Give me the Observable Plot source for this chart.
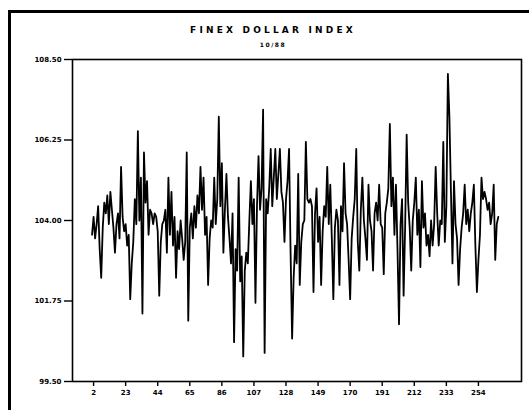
<!DOCTYPE html>
<html>
<head>
<meta charset="utf-8">
<script src="https://cdn.jsdelivr.net/npm/d3@7"></script>
<script src="https://cdn.jsdelivr.net/npm/@observablehq/plot@0.6"></script>
<style>
  html, body { margin: 0; padding: 0; background: #fff; }
  #wrap { position: relative; width: 529px; height: 410px; overflow: hidden; font-family: "DejaVu Sans", sans-serif; }
  #border { position: absolute; left: 8px; top: 10px; width: 540px; height: 420px; border-left: 3px solid #000; border-top: 3px solid #000; }
  #title { position: absolute; top: 25px; left: 0; width: 546px; text-align: center; font-weight: bold; font-size: 9px; letter-spacing: 3.2px; }
  #subtitle { position: absolute; top: 41px; left: 0; width: 546px; text-align: center; font-weight: bold; font-size: 6px; letter-spacing: 1.5px; }
  #chart { position: absolute; left: 0; top: 0; }
</style>
</head>
<body>
<div id="wrap">
  <div id="border"></div>
  <div id="title">FINEX DOLLAR INDEX</div>
  <div id="subtitle">10/88</div>
  <div id="chart"></div>
</div>
<script>
const title = "FINEX DOLLAR INDEX";
const subtitle = "10/88";
const xTicks = [2, 23, 44, 65, 86, 107, 128, 149, 170, 191, 212, 233, 254];
const yTicks = [99.5, 101.75, 104.0, 106.25, 108.5];
const yTickLabels = ["99.50", "101.75", "104.00", "106.25", "108.50"];
const indexValues = [
  103.6, 104.1, 103.5, 103.9, 104.4, 103.2, 102.4, 103.8, 104.5, 104.2,
  104.7, 103.9, 104.8, 104.3, 103.8, 103.1, 103.9, 104.2, 103.5, 105.5,
  104.1, 103.7, 103.9, 103.3, 103.6, 101.8, 102.8, 103.4, 104.6, 103.9,
  106.5, 104.0, 105.2, 101.4, 105.9, 104.5, 105.1, 103.6, 104.3, 104.2,
  103.9, 104.2, 104.1, 103.7, 101.9, 103.4, 103.9, 104.0, 104.3, 103.1,
  105.2, 103.6, 104.8, 103.3, 104.1, 102.4, 103.7, 103.2, 104.0, 103.5,
  102.9, 103.4, 105.9, 101.2, 103.8, 104.2, 103.5, 104.4, 103.8, 104.7,
  104.2, 105.5, 104.3, 105.2, 103.6, 104.1, 102.2, 103.5, 104.0, 103.8,
  105.2, 103.9, 104.6, 106.9, 104.4, 105.6, 103.1, 104.3, 105.3, 104.1,
  103.5, 102.8, 104.2, 100.6, 103.2, 102.6, 105.2, 102.3, 103.0, 100.2,
  102.6, 103.1, 102.8, 104.0, 105.1, 103.9, 104.6, 101.7, 104.4, 105.8,
  104.3, 104.9, 107.1, 100.3, 104.6, 104.2, 104.9, 106.0, 104.4, 105.2,
  106.0, 104.6, 105.3, 106.0, 104.8, 104.5, 103.4, 104.6, 105.1, 106.0,
  103.1, 100.7, 102.4, 103.3, 102.8, 105.3, 102.2, 103.4, 103.9, 104.0,
  106.2, 104.6, 104.5, 104.6, 104.4, 102.0, 104.2, 104.9, 103.4, 104.1,
  102.2, 103.7, 104.4, 104.1, 105.5, 103.9, 105.0, 103.5, 101.8, 103.8,
  104.3, 104.0, 102.2, 104.4, 103.7, 105.6, 104.2, 103.9, 102.9, 101.8,
  103.5, 104.1, 104.6, 106.0, 103.4, 102.6, 104.3, 105.2, 104.0, 103.5,
  102.9, 105.0, 104.0, 103.7, 102.6, 104.2, 104.5, 104.0, 105.0, 103.9,
  103.8, 102.5, 104.2, 104.5, 104.9, 106.7, 104.4, 105.2, 103.6, 105.0,
  103.2, 101.1, 103.9, 104.6, 101.9, 103.8, 106.4, 104.5, 103.8, 102.6,
  104.0, 104.5, 105.2, 103.6, 104.3, 102.7, 105.1, 103.8, 104.2, 103.3,
  103.6, 103.0, 104.0, 103.3, 103.9, 105.5, 104.2, 103.3, 104.0, 103.9,
  106.2, 103.4, 104.4, 108.1, 106.9, 104.8, 102.8, 105.1, 103.9, 103.5,
  102.2, 103.2, 103.8, 104.2, 105.0, 103.9, 104.3, 103.7, 104.2, 104.5,
  105.0, 103.3, 102.0, 102.9, 103.6, 105.2, 104.6, 104.8, 104.6, 104.3,
  104.5, 103.9, 104.2, 105.0, 102.9, 103.9, 104.1
];
const data = indexValues.map((v, k) => ({i: k + 1, v}));

const chart = Plot.plot({
  width: 529,
  height: 410,
  marginLeft: 72,
  marginRight: 8,
  marginTop: 59,
  marginBottom: 29,
  style: {background: "transparent", fontFamily: "DejaVu Sans, sans-serif", fontSize: "7px", fontWeight: "bold", color: "#000"},
  x: {domain: [-11.8, 282.2], ticks: xTicks, tickFormat: d => String(d), tickSize: 5, tickPadding: 4, label: null},
  y: {domain: [99.5, 108.5], ticks: yTicks, tickFormat: d => yTickLabels[yTicks.indexOf(d)], tickSize: 8, tickPadding: 3, label: null},
  marks: [
    Plot.frame({stroke: "#000", strokeWidth: 1.6}),
    Plot.line(data, {x: "i", y: "v", stroke: "#000", strokeWidth: 1.8}),
    Plot.axisX({ticks: xTicks, tickFormat: d => String(d), tickSize: 5, tickPadding: 4, strokeWidth: 1.4, label: null, style: {letterSpacing: "1px"}}),
    Plot.axisY({ticks: yTicks, tickFormat: d => yTickLabels[yTicks.indexOf(d)], tickSize: 8, tickPadding: 3, strokeWidth: 1.4, label: null, style: {letterSpacing: "1.3px"}})
  ]
});
document.getElementById("chart").appendChild(chart);
</script>
</body>
</html>
